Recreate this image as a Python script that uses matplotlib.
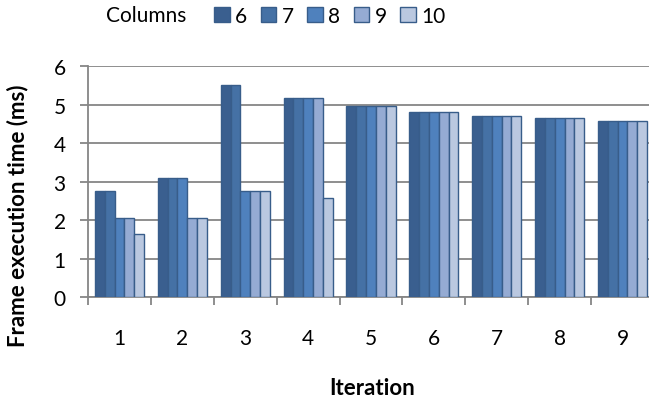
import numpy as np
import matplotlib
matplotlib.use("Agg")
import matplotlib.pyplot as plt

# Data
iterations = ["1", "2", "3", "4", "5", "6", "7", "8", "9"]
column_labels = ["6", "7", "8", "9", "10"]
cols_6 = [2.75, 3.10, 5.52, 5.17, 4.97, 4.82, 4.72, 4.66, 4.59]
cols_7 = [2.75, 3.10, 5.52, 5.17, 4.97, 4.82, 4.72, 4.66, 4.59]
cols_8 = [2.05, 3.10, 2.75, 5.17, 4.97, 4.82, 4.72, 4.66, 4.59]
cols_9 = [2.05, 2.05, 2.75, 5.17, 4.97, 4.82, 4.72, 4.66, 4.59]
cols_10 = [1.64, 2.05, 2.75, 2.58, 4.97, 4.82, 4.72, 4.66, 4.59]
yticks = [0, 1, 2, 3, 4, 5, 6]

series = [cols_6, cols_7, cols_8, cols_9, cols_10]
colors = ["#3A5F8F", "#4571A5", "#4F81BD", "#95ABD3", "#BAC8E0"]
edge = "#385D8A"
grid_gray = "#868686"

plt.rcParams["font.family"] = ["Lato", "DejaVu Sans"]

fig = plt.figure(figsize=(6.49, 4.02), dpi=100)
ax = fig.add_axes([88 / 649, 1 - 298 / 402, 566 / 649, (298 - 67.3) / 402])

x = np.arange(len(iterations))
bar_w = 0.156
offsets = (np.arange(len(series)) - 2) * bar_w
handles = []
for vals, off, c, lab in zip(series, offsets, colors, column_labels):
    h = ax.bar(x + off, vals, width=bar_w, color=c, edgecolor=edge,
               linewidth=1.0, label=lab, zorder=3)
    handles.append(h)

ax.set_xlim(-0.5, len(iterations) - 0.5)
ax.set_ylim(0, 6)
ax.set_yticks(yticks)
ax.set_yticklabels([str(t) for t in yticks], fontsize=15)
ax.set_xticks(x)
ax.set_xticklabels(iterations, fontsize=15)
ax.set_xticks(np.arange(-0.5, len(iterations)), minor=True)

ax.yaxis.grid(True, color=grid_gray, linewidth=1.3, zorder=0)
ax.set_axisbelow(True)
for s in ["top", "right"]:
    ax.spines[s].set_visible(False)
for s in ["left", "bottom"]:
    ax.spines[s].set_color(grid_gray)
    ax.spines[s].set_linewidth(1.3)

ax.tick_params(axis="x", which="major", length=0, pad=22)
ax.tick_params(axis="x", which="minor", length=6, width=1.3, color=grid_gray)
ax.tick_params(axis="y", length=6, width=1.3, color=grid_gray, pad=10)

fig.text(372 / 649, 1 - 389 / 402, "Iteration", ha="center", va="center",
         fontsize=16, fontweight="bold")
fig.text(18 / 649, 1 - 216 / 402, "Frame execution time (ms)", ha="center",
         va="center", rotation=90, fontsize=16, fontweight="bold")

# legend across the top
fig.text(146 / 649, 1 - 16 / 402, "Columns", ha="center", va="center", fontsize=15)
fig.legend(handles=handles, labels=column_labels, loc="center left",
           bbox_to_anchor=(206 / 649, 1 - 17 / 402), ncol=5, frameon=False,
           fontsize=15, handlelength=0.75, handleheight=0.75,
           handletextpad=0.25, columnspacing=0.65, borderaxespad=0)

fig.savefig("out.png", dpi=100)
